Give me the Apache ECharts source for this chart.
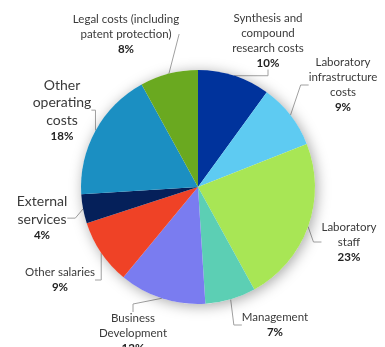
<!DOCTYPE html>
<html>
<head>
<meta charset="utf-8">
<script src="https://cdn.jsdelivr.net/npm/echarts@6/dist/echarts.min.js"></script>
<style>html,body{margin:0;padding:0;background:#fff;}#c{width:385px;height:347px;}</style>
</head>
<body>
<div id="c"></div>
<script>
const categories = [
  "Synthesis and\ncompound\nresearch costs",
  "Laboratory\ninfrastructure\ncosts",
  "Laboratory\nstaff",
  "Management",
  "Business\nDevelopment",
  "Other salaries",
  "External\nservices",
  "Other\noperating\ncosts",
  "Legal costs (including\npatent protection)"
];
const values = [10, 9, 23, 7, 12, 9, 4, 18, 8];
const colors = ["#00339c", "#5ecbf2", "#a8e655", "#5ccfb4", "#7a7cf0", "#ef4226", "#05205a", "#1b8fc2", "#6aa920"];
const bigLabel = [false, false, false, false, false, false, true, true, false];
const labelPos = [[268, 41], [343, 85], [349, 242], [275, 325], [133, 333], [60, 280], [42, 218], [62, 110], [126, 34]];

const chart = echarts.init(document.getElementById('c'), null, {renderer: 'canvas'});
const FONT = 'Lato';
chart.setOption({
  animation: false,
  series: [
    {
      type: 'pie', silent: true, center: [198, 187], radius: 117,
      label: {show: false}, labelLine: {show: false},
      data: [{value: 1, itemStyle: {color: '#fff', shadowBlur: 14, shadowColor: 'rgba(0,0,0,0.35)', shadowOffsetX: 2, shadowOffsetY: 2}}]
    },
    {
      type: 'pie', center: [198, 187], radius: 117, startAngle: 90, clockwise: true,
      avoidLabelOverlap: false,
      itemStyle: {borderWidth: 0},
      data: categories.map((c, i) => ({
        name: c, value: values[i], itemStyle: {color: colors[i]},
        label: bigLabel[i] ? {rich: {n: {fontSize: 14, lineHeight: 17.5}, p: {fontSize: 11.5, lineHeight: 15}}} : {}
      })),
      label: {
        show: true, position: 'outside', color: '#333', fontFamily: FONT,
        formatter: p => p.name.split('\n').map(s => '{n|' + s + '}').join('\n') + '\n{p|' + p.value + '%}',
        rich: {
          n: {fontFamily: FONT, fontSize: 11.5, lineHeight: 15, color: '#3a3a3a', align: 'center'},
          p: {fontFamily: FONT, fontSize: 11.5, lineHeight: 15, fontWeight: 'bold', color: '#222', align: 'center'}
        }
      },
      labelLine: {show: true, length: 8, length2: 8, lineStyle: {color: '#a0a0a0', width: 1}},
      labelLayout: params => ({
        x: labelPos[params.dataIndex][0], y: labelPos[params.dataIndex][1],
        align: 'center', verticalAlign: 'middle'
      })
    }
  ]
});
</script>
</body>
</html>
